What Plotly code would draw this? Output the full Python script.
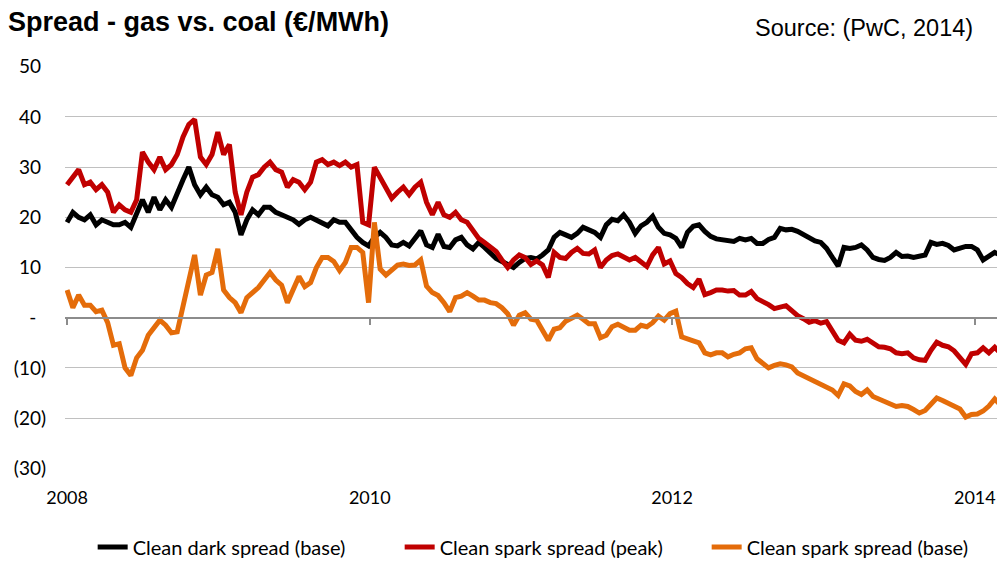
import pandas as pd
import plotly.graph_objects as go

# Fortnightly readings of the three spreads (EUR/MWh), Jan 2008 - Mar 2014
start_date = "2008-01-01"
step = "14D"

clean_dark_base = [
    19, 21, 20, 19.5, 20.5, 18.5, 19.5, 19, 18.5, 18.5,
    19, 18, 20.5, 23.5, 21, 24, 21.5, 23.5, 22, 25,
    27.5, 30, 26.5, 24.5, 26, 24.5, 24, 22.5, 23, 21,
    16.5, 19.5, 21.5, 20.5, 22, 22, 21, 20.5, 20, 19.5,
    18.6, 19.5, 20, 19.5, 19, 18.3, 19.5, 19, 19, 17.5,
    16, 15, 14.3, 16, 17, 16, 14.5, 14.3, 15, 14.3,
    16, 17.3, 14.5, 14, 16.6, 14.2, 14, 15.5, 16, 14.5,
    13.7, 15, 14, 13, 11.8, 11.2, 10.5, 10, 11, 11.8,
    12, 11.7, 12.5, 13.5, 16, 17, 16.5, 16, 16.8, 18,
    17.5, 17, 16, 18.5, 19.6, 19.3, 20.5, 19, 16.8, 18.3,
    19, 20.2, 18, 16.8, 16.5, 15.8, 14, 17, 18.2, 18.5,
    17.2, 16.2, 15.7, 15.5, 15.3, 15.2, 15.8, 15.5, 15.8, 14.8,
    14.8, 15.6, 16, 17.8, 17.5, 17.6, 17.2, 16.6, 16, 15.3,
    15, 13.8, 12, 10.3, 14, 13.8, 14, 14.5, 13.5, 12,
    11.6, 11.4, 12, 13, 12.2, 12.3, 12, 12.3, 12.5, 15,
    14.6, 14.8, 14.4, 13.5, 13.8, 14.2, 14.2, 13.5, 11.5, 12.3,
    13, 12.5,
]

clean_spark_peak = [
    26.5, 28, 29.5, 26.5, 27, 25.5, 26.5, 25, 21, 22.5,
    21.5, 21, 23.5, 33, 31, 29.5, 32, 29.5, 30.5, 32.5,
    36, 38.5, 39.5, 32, 30.5, 32.5, 37, 32.5, 34.5, 25,
    20.5, 25, 28, 28.5, 30, 31, 29.5, 29, 26, 27.5,
    27, 25.5, 27, 31, 31.5, 30.5, 31, 30.3, 31, 30,
    30.5, 19, 18.5, 30, 28, 26, 23.8, 25, 26, 24.5,
    26, 27, 23, 20.5, 23, 20.5, 20, 21, 19.5, 19,
    17.5, 15.8, 15, 14.2, 13.2, 11.5, 10, 11.5, 12.5, 12,
    10.6, 11.3, 10.5, 8, 13, 12, 11.8, 13, 13.8, 12.8,
    12.7, 13.5, 10, 11.5, 12.4, 12.7, 12, 11.5, 12, 11.2,
    10.2, 12.5, 14, 10.7, 11.3, 8.8, 8, 6.8, 6, 7.7,
    4.6, 5, 5.5, 5.5, 5.3, 5.4, 4.5, 4.5, 5.2, 3.8,
    3.3, 2.6, 1.8, 2.1, 2.4, 1.4, 0.4, -0.2, -0.9, -0.6,
    -1.1, -0.8, -2.5, -4.5, -5, -3.3, -4.5, -4.7, -4.3, -5,
    -5.8, -5.9, -6.2, -7, -7.2, -7, -8, -8.4, -8.5, -6.5,
    -4.9, -5.5, -5.8, -6.6, -8, -9.3, -7.2, -7, -6, -7,
    -5.9, -7.1,
]

clean_spark_base = [
    5.5, 2, 4.5, 2.5, 2.5, 1.2, 1.5, -1, -5.5, -5.2,
    -10, -11.5, -8, -6.5, -3.5, -2, -0.5, -1.5, -3, -2.8,
    2.5, 6.8, 12.5, 4.5, 8.5, 9, 13.7, 5.5, 4, 3,
    1, 4, 5, 6, 7.5, 9, 7.5, 6.5, 3, 5.5,
    8.2, 6.2, 7, 10, 12, 12, 11.2, 9.4, 11, 14,
    14, 13, 3, 19, 9.7, 8.5, 9.5, 10.5, 10.7, 10.4,
    10.5, 11.5, 6.3, 5, 4.4, 3, 1.2, 4, 4.3, 5,
    4.3, 3.5, 3.5, 3, 2.8, 2, 0.8, -1.5, 0.5, 1,
    -0.3, -0.5, -2.5, -4.5, -2.3, -2, -0.7, 0, 0.5, -0.3,
    -1.2, -1.2, -4, -3.5, -1.8, -1.3, -2, -2.5, -2.5, -1.5,
    -1.8, -1, 0.3, -0.5, 0.8, 1.3, -3.8, -4.3, -4.6, -5,
    -7, -7.4, -7, -7, -7.8, -7.3, -7, -6.2, -6, -8.2,
    -9.1, -10, -9.5, -9.2, -9.4, -9.8, -11, -11.6, -12.1, -12.6,
    -13.3, -14, -14.4, -15.5, -13.2, -13.6, -14.7, -15.3, -14.4, -15.7,
    -16.2, -16.6, -17.1, -17.7, -17.5, -17.7, -18.3, -19, -18.5, -17.2,
    -16, -16.5, -17, -17.6, -18.2, -19.8, -19.3, -19.2, -18.6, -17.6,
    -16.2, -17.4,
]

series_names = ["Clean dark spread (base)", "Clean spark spread (peak)", "Clean spark spread (base)"]
series_colors = ["#000000", "#C00000", "#E46C0A"]
series_axes = ["x", "x", "x2"]

y_tick_vals = [-30, -20, -10, 0, 10, 20, 30, 40, 50]
y_tick_text = ["(30)", "(20)", "(10)", "-\u00a0\u00a0", "10\u00a0", "20\u00a0", "30\u00a0", "40\u00a0", "50\u00a0"]
y_range = [-30.15, 50.15]
x_range = ["2007-12-27", "2014-03-10"]

dates = pd.date_range(start=start_date, periods=len(clean_dark_base), freq=step)

fig = go.Figure()
for name, color, axis, vals in zip(series_names, series_colors, series_axes,
                                   [clean_dark_base, clean_spark_peak, clean_spark_base]):
    fig.add_trace(go.Scatter(
        x=dates, y=vals, mode="lines", name=name, xaxis=axis, yaxis="y",
        line=dict(color=color, width=5),
    ))

zero_pos = (0 - y_range[0]) / (y_range[1] - y_range[0])

# the page body adds an 8px offset, so the figure is 8px smaller each way
fig.update_layout(
    width=997, height=554,
    margin=dict(l=57, r=2, t=58, b=93, autoexpand=False),
    paper_bgcolor="white", plot_bgcolor="white",
    showlegend=True,
    title=dict(
        text="<b>Spread - gas vs. coal (€/MWh)</b>",
        font=dict(family="Liberation Sans, Arial, sans-serif", size=27, color="#000000"),
        x=0, xanchor="left", xref="container",
        y=0.993, yanchor="top", yref="container",
    ),
    xaxis=dict(
        type="date", range=x_range,
        anchor="free", position=zero_pos,
        showgrid=False, zeroline=False,
        showline=True, linecolor="#8C8C8C", linewidth=1.5,
        ticks="outside", ticklen=7, tickwidth=1.5, tickcolor="#8C8C8C",
        tick0="2008-01-01", dtick="M24",
        showticklabels=False,
    ),
    xaxis2=dict(
        type="date", range=x_range,
        overlaying="x", anchor="y", side="bottom",
        showgrid=False, zeroline=False, showline=False,
        ticks="", tick0="2008-01-01", dtick="M24", tickformat="%Y",
        ticklabelstandoff=16,
        tickfont=dict(family="Lato, sans-serif", size=18, color="#000000"),
    ),
    yaxis=dict(
        range=y_range,
        tickvals=y_tick_vals, ticktext=y_tick_text,
        showgrid=True, gridcolor="#C0C0C0", gridwidth=1.3,
        zeroline=False, showline=False, ticks="",
        ticklabelstandoff=18,
        tickfont=dict(family="Lato, sans-serif", size=19, color="#000000"),
    ),
    legend=dict(
        orientation="h", x=0.0295, xanchor="left",
        y=-0.1935, yanchor="middle",
        font=dict(family="Lato, sans-serif", size=20, color="#000000"),
        entrywidth=262, entrywidthmode="pixels",
        traceorder="normal", borderwidth=0,
    ),
    annotations=[dict(
        text="Source: (PwC, 2014)",
        xref="paper", yref="paper", x=0.970, y=1.0943,
        xanchor="right", yanchor="middle", showarrow=False,
        font=dict(family="Liberation Sans, Arial, sans-serif", size=23.5, color="#000000"),
    )],
)

fig.write_html("out.html")
